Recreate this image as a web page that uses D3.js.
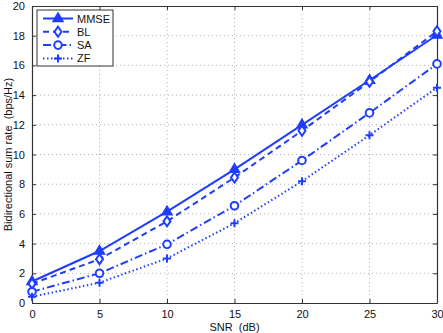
<!DOCTYPE html>
<html>
<head>
<meta charset="utf-8">
<script src="https://cdn.jsdelivr.net/npm/d3@7"></script>
<style>
  body { margin: 0; background: #fff; }
  text { font-family: "Liberation Sans", Arial, sans-serif; white-space: pre; }
</style>
</head>
<body>
<svg width="443" height="333"></svg>
<script>
var snr = [0, 5, 10, 15, 20, 25, 30];
var mmse = [1.45, 3.5, 6.15, 9.0, 12.0, 15.0, 18.05];
var bl = [1.3, 2.95, 5.5, 8.45, 11.6, 14.9, 18.3];
var sa = [0.76, 2.0, 3.95, 6.55, 9.6, 12.8, 16.1];
var zf = [0.42, 1.37, 3.0, 5.37, 8.2, 11.3, 14.5];
var xTicks = [0, 5, 10, 15, 20, 25, 30];
var yTicks = [0, 2, 4, 6, 8, 10, 12, 14, 16, 18, 20];
var seriesNames = ["MMSE", "BL", "SA", "ZF"];

var blue = "#1f3dff";
var svg = d3.select("svg"),
    plotLeft = 32, plotRight = 437, plotTop = 6, plotBottom = 303;

var x = d3.scaleLinear().domain([0, 30]).range([plotLeft, plotRight]);
var y = d3.scaleLinear().domain([0, 20]).range([plotBottom, plotTop]);

var series = [
    { name: "MMSE", values: mmse, dash: null, marker: "triangle" },
    { name: "BL", values: bl, dash: "6,4", marker: "diamond" },
    { name: "SA", values: sa, dash: "8,3,1.5,3", marker: "circle" },
    { name: "ZF", values: zf, dash: "1.5,2.5", marker: "plus" }
];

// grid
var grid = svg.append("g");
grid.selectAll(".gx").data(xTicks.slice(1, -1)).enter().append("line")
    .attr("x1", d => x(d)).attr("x2", d => x(d))
    .attr("y1", plotTop).attr("y2", plotBottom)
    .attr("stroke", "#b0b0b0").attr("stroke-width", 1).attr("stroke-dasharray", "1,3");
grid.selectAll(".gy").data(yTicks.slice(1, -1)).enter().append("line")
    .attr("x1", plotLeft).attr("x2", plotRight)
    .attr("y1", d => y(d)).attr("y2", d => y(d))
    .attr("stroke", "#b0b0b0").attr("stroke-width", 1).attr("stroke-dasharray", "1,3");

// axes (ticks inward)
var xAxis = svg.append("g").attr("transform", "translate(0," + plotBottom + ")")
    .call(d3.axisBottom(x).tickValues(xTicks).tickSizeInner(-4).tickSizeOuter(0).tickPadding(7));
var xAxisTop = svg.append("g").attr("transform", "translate(0," + plotTop + ")")
    .call(d3.axisTop(x).tickValues(xTicks).tickSizeInner(-4).tickSizeOuter(0).tickFormat(""));
var yAxis = svg.append("g").attr("transform", "translate(" + plotLeft + ",0)")
    .call(d3.axisLeft(y).tickValues(yTicks).tickSizeInner(-4).tickSizeOuter(0).tickPadding(7));
var yAxisRight = svg.append("g").attr("transform", "translate(" + plotRight + ",0)")
    .call(d3.axisRight(y).tickValues(yTicks).tickSizeInner(-4).tickSizeOuter(0).tickFormat(""));

[xAxis, xAxisTop, yAxis, yAxisRight].forEach(function (a) {
    a.selectAll("path").attr("stroke", "#333").attr("stroke-width", 1.2);
    a.selectAll("line").attr("stroke", "#333");
    a.selectAll("text").attr("font-size", 11).attr("fill", "#111")
        .style("font-family", "Liberation Sans, Arial, sans-serif");
});

// labels
svg.append("text").attr("x", (plotLeft + plotRight) / 2).attr("y", 331)
    .attr("text-anchor", "middle").attr("font-size", 11).attr("fill", "#111")
    .text("SNR  (dB)");
svg.append("text").attr("transform", "translate(12," + ((plotTop + plotBottom) / 2) + ") rotate(-90)")
    .attr("text-anchor", "middle").attr("font-size", 11).attr("fill", "#111")
    .text("Bidirectional sum rate  (bps/Hz)");

function drawMarker(g, type, cx, cy) {
    if (type === "triangle") {
        g.append("path").attr("d", "M" + cx + "," + (cy - 5.5) + "L" + (cx + 5) + "," + (cy + 3) + "L" + (cx - 5) + "," + (cy + 3) + "Z")
            .attr("fill", blue).attr("stroke", blue).attr("stroke-width", 1.5);
    } else if (type === "diamond") {
        g.append("path").attr("d", "M" + cx + "," + (cy - 5) + "L" + (cx + 3.5) + "," + cy + "L" + cx + "," + (cy + 5) + "L" + (cx - 3.5) + "," + cy + "Z")
            .attr("fill", "#fff").attr("stroke", blue).attr("stroke-width", 2);
    } else if (type === "circle") {
        g.append("circle").attr("cx", cx).attr("cy", cy).attr("r", 3.8)
            .attr("fill", "#fff").attr("stroke", blue).attr("stroke-width", 2);
    } else {
        g.append("path").attr("d", "M" + (cx - 4) + "," + cy + "H" + (cx + 4) + "M" + cx + "," + (cy - 4) + "V" + (cy + 4))
            .attr("fill", "none").attr("stroke", blue).attr("stroke-width", 2);
    }
}

var line = d3.line()
    .x(function (d, i) { return x(snr[i]); })
    .y(function (d) { return y(d); });

series.forEach(function (s) {
    var g = svg.append("g");
    g.append("path").datum(s.values).attr("d", line)
        .attr("fill", "none").attr("stroke", blue).attr("stroke-width", 2)
        .attr("stroke-dasharray", s.dash);
    s.values.forEach(function (v, i) {
        drawMarker(g, s.marker, x(snr[i]), y(v));
    });
});

// legend
var legend = svg.append("g");
legend.append("rect").attr("x", 37).attr("y", 10).attr("width", 76).attr("height", 56)
    .attr("fill", "#fff").attr("stroke", "#333").attr("stroke-width", 1);
series.forEach(function (s, i) {
    var ly = 18.5 + i * 13.3;
    legend.append("line").attr("x1", 43).attr("x2", 73).attr("y1", ly).attr("y2", ly)
        .attr("stroke", blue).attr("stroke-width", 2).attr("stroke-dasharray", s.dash);
    drawMarker(legend, s.marker, 58, ly);
    legend.append("text").attr("x", 77).attr("y", ly + 4).attr("font-size", 11)
        .attr("fill", "#111").text(seriesNames[i]);
});
</script>
</body>
</html>
